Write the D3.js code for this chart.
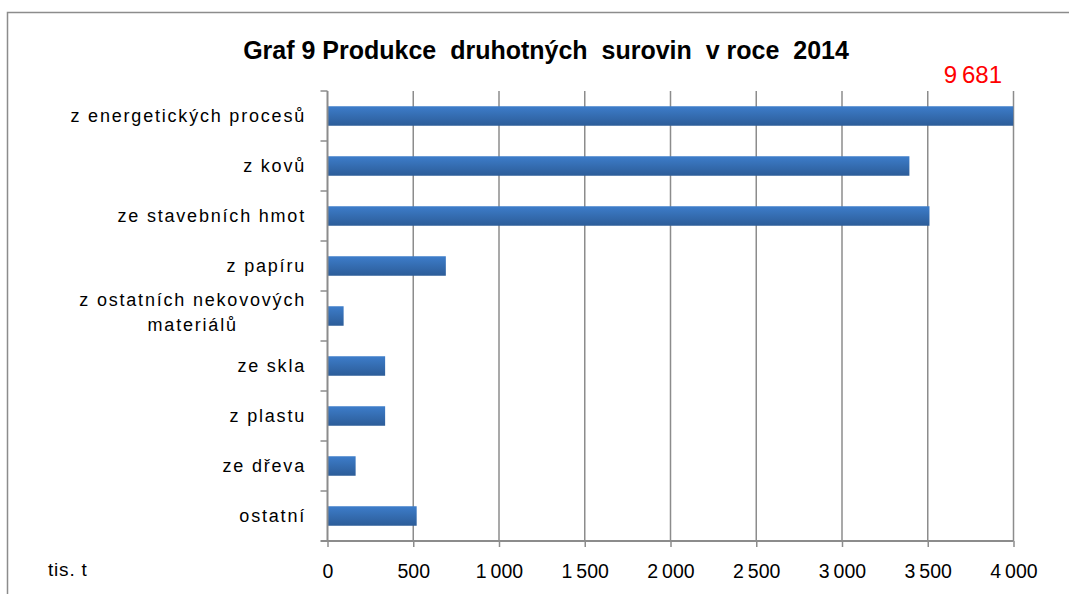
<!DOCTYPE html>
<html><head><meta charset="utf-8">
<script src="https://cdn.jsdelivr.net/npm/d3@7"></script>
<style>body{margin:0;background:#fff;font-family:"Liberation Sans",Arial,sans-serif;}</style>
</head><body><svg id="c" width="1069" height="594"></svg>
<script>
const title = "Graf 9 Produkce  druhotných  surovin  v roce  2014";
const categories = [
  ["z energetických procesů"],
  ["z kovů"],
  ["ze stavebních hmot"],
  ["z papíru"],
  ["z ostatních nekovových", "materiálů"],
  ["ze skla"],
  ["z plastu"],
  ["ze dřeva"],
  ["ostatní"]
];
const values = [9681, 3393, 3510, 690, 94, 336, 336, 164, 520];
const xTicks = [0, 500, 1000, 1500, 2000, 2500, 3000, 3500, 4000];
const xMax = 4000;
const unitLabel = "tis. t";
const overflowLabel = "9\u2009681";

const svg = d3.select("#c");
const m = {l: 327.5, r: 1013.5, t: 91, b: 541};

// chart border
svg.append("rect").attr("x", 7.5).attr("y", 12.5).attr("width", 1080).attr("height", 600)
  .attr("fill", "none").attr("stroke", "#8c8c8c").attr("stroke-width", 1.5);

const defs = svg.append("defs");
const g = defs.append("linearGradient").attr("id", "bg").attr("x1", 0).attr("y1", 0).attr("x2", 0).attr("y2", 1);
g.append("stop").attr("offset", "0%").attr("stop-color", "#3d7dca");
g.append("stop").attr("offset", "100%").attr("stop-color", "#2c5c98");
defs.append("clipPath").attr("id", "clip").append("rect")
  .attr("x", m.l).attr("y", m.t).attr("width", m.r - m.l).attr("height", m.b - m.t);

const x = d3.scaleLinear().domain([0, xMax]).range([m.l, m.r]);
const y = d3.scaleBand().domain(d3.range(categories.length)).range([m.t, m.b]).paddingInner(0.61).paddingOuter(0.305);
const yb = d3.scaleBand().domain(d3.range(categories.length)).range([m.t, m.b]);

const loc = d3.formatLocale({decimal: ",", thousands: "\u2009", grouping: [3], currency: ["", ""]});
const fmt = loc.format(",d");

// gridlines
svg.append("g").selectAll("line").data(xTicks.slice(1)).join("line")
  .attr("x1", d => x(d)).attr("x2", d => x(d)).attr("y1", m.t).attr("y2", m.b)
  .attr("stroke", "#8c8c8c").attr("stroke-width", 1.5);

// bars
svg.append("g").attr("clip-path", "url(#clip)").selectAll("rect").data(values).join("rect")
  .attr("x", x(0)).attr("y", (d, i) => y(i)).attr("height", y.bandwidth())
  .attr("width", d => x(Math.min(d, xMax)) - x(0)).attr("fill", "url(#bg)");

// x axis
const xa = svg.append("g").attr("transform", `translate(0,${m.b})`)
  .call(d3.axisBottom(x).tickValues(xTicks).tickSize(6).tickPadding(17).tickFormat(fmt));
xa.select(".domain").attr("stroke", "#8c8c8c").attr("stroke-width", 2).attr("d", `M${m.l - 7},0H${m.r}`);
xa.selectAll(".tick line").attr("stroke", "#8c8c8c").attr("stroke-width", 1.5);
xa.selectAll("text").attr("font-size", 19.5).attr("fill", "#000").attr("font-family", "Liberation Sans, Arial");

// y axis line and ticks
svg.append("line").attr("x1", m.l).attr("x2", m.l).attr("y1", m.t).attr("y2", m.b)
  .attr("stroke", "#8c8c8c").attr("stroke-width", 2);
svg.append("g").selectAll("line").data(d3.range(categories.length)).join("line")
  .attr("x1", m.l - 7).attr("x2", m.l).attr("y1", i => yb(i)).attr("y2", i => yb(i))
  .attr("stroke", "#8c8c8c").attr("stroke-width", 1.5);

// category labels
const lab = svg.append("g").selectAll("text").data(categories).join("text")
  .attr("font-size", 18).attr("fill", "#000").attr("letter-spacing", 1.8)
  .attr("text-anchor", "middle")
  .attr("y", (d, i) => yb(i) + yb.bandwidth() / 2 + 6 - (d.length - 1) * 16.5);
lab.each(function(d) {
  const t = d3.select(this);
  d.forEach((line, j) => t.append("tspan").attr("dy", j ? 25 : 0).attr("x", 0).text(line));
});
lab.each(function(d) {
  const bb = this.getBBox();
  d3.select(this).selectAll("tspan").attr("x", 306 - bb.width / 2);
});

// title
svg.append("text").attr("x", 546).attr("y", 59).attr("text-anchor", "middle")
  .attr("font-size", 25).attr("font-weight", "bold").attr("fill", "#000")
  .style("white-space", "pre").text(title);

// overflow label
svg.append("text").attr("x", 1002).attr("y", 83).attr("text-anchor", "end")
  .attr("font-size", 24).attr("fill", "#ff0000").text(overflowLabel);

// unit
svg.append("text").attr("x", 48).attr("y", 576).attr("font-size", 19).attr("fill", "#000")
  .attr("letter-spacing", 0.8).text(unitLabel);
</script></body></html>
